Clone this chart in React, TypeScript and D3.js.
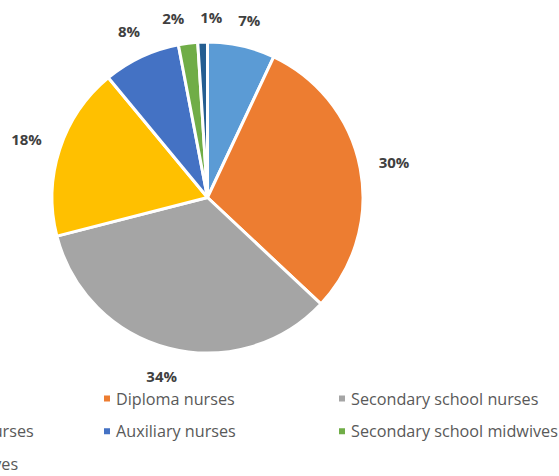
import React from "react";
import * as d3 from "d3";

const categories = [
  "Degree nurses",
  "Diploma nurses",
  "Secondary school nurses",
  "Public health nurses",
  "Auxiliary nurses",
  "Secondary school midwives",
  "Enrolled midwives",
];
const values = [7, 30, 34, 18, 8, 2, 1];
const colors = ["#5B9BD5", "#ED7D31", "#A5A5A5", "#FFC000", "#4472C4", "#70AD47", "#255E91"];

const W = 559;
const H = 476;
const cx = 207.5;
const cy = 197.5;
const R = 155.5;
const FONT = "'Open Sans', Lato, sans-serif";

export default function App() {
  const pie = d3.pie<number>().sort(null).value((d) => d);
  const arcs = pie(values);
  const arc = d3.arc<d3.PieArcDatum<number>>().innerRadius(0).outerRadius(R);

  // label angles with simple collision relaxation
  const ang = arcs.map((a) => ((a.startAngle + a.endAngle) / 2) * 180 / Math.PI);
  const minSep = 12;
  for (let it = 0; it < 50; it++) {
    for (let i = 0; i < ang.length; i++) {
      const j = (i + 1) % ang.length;
      let diff = ang[j] - ang[i];
      if (diff < 0) diff += 360;
      if (diff < minSep) {
        const p = (minSep - diff) / 2;
        ang[i] -= p;
        ang[j] += p;
      }
    }
  }
  const labels = arcs.map((a, i) => {
    const t = (ang[i] * Math.PI) / 180;
    const text = `${values[i]}%`;
    const w = text.length * 10.5;
    const h = 15;
    const ext = Math.abs(Math.sin(t)) * w / 2 + Math.abs(Math.cos(t)) * h / 2;
    const r = 173 + ext;
    return { text, x: cx + r * Math.sin(t), y: cy - r * Math.cos(t) };
  });

  const colW = 235;
  const col0Marker = 104 - colW;
  const rowY = [398.5, 431.25, 464];

  return (
    <svg width={W} height={H} style={{ position: "absolute", left: 0, top: 0 }}>
      <rect width={W} height={H} fill="#ffffff" />
      <g transform={`translate(${cx},${cy})`}>
        {arcs.map((a, i) => (
          <path key={i} d={arc(a) || ""} fill={colors[i]} stroke="#ffffff" strokeWidth={3} strokeLinejoin="round" />
        ))}
      </g>
      {labels.map((l, i) => (
        <text
          key={i}
          x={l.x}
          y={l.y}
          textAnchor="middle"
          dominantBaseline="central"
          fontFamily={FONT}
          fontWeight="bold"
          fontSize={15}
          fill="#404040"
        >
          {l.text}
        </text>
      ))}
      {categories.map((c, i) => {
        const col = i % 3;
        const row = Math.floor(i / 3);
        const mx = col0Marker + col * colW;
        const y = rowY[row];
        return (
          <g key={c}>
            <rect x={mx} y={y - 3} width={6} height={6} fill={colors[i]} />
            <text x={mx + 12} y={y} dominantBaseline="central" fontFamily={FONT} fontSize={16.2} fill="#595959">
              {c}
            </text>
          </g>
        );
      })}
    </svg>
  );
}
